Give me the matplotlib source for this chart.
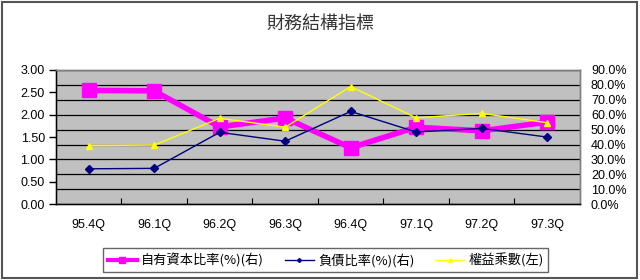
import matplotlib
matplotlib.use("Agg")
import matplotlib.pyplot as plt
from matplotlib.patches import Rectangle
from matplotlib.ticker import FuncFormatter, MultipleLocator

plt.rcParams['font.family'] = ['Noto Sans CJK TC', 'DejaVu Sans']

# data
quarters = ["95.4Q", "96.1Q", "96.2Q", "96.3Q", "96.4Q", "97.1Q", "97.2Q", "97.3Q"]
equity_ratio = [76.3, 76.0, 51.8, 57.8, 37.8, 51.6, 49.2, 55.0]   # 自有資本比率(%) right axis
debt_ratio = [23.7, 24.0, 48.2, 42.2, 62.2, 48.4, 50.8, 45.0]     # 負債比率(%) right axis
multiplier = [1.31, 1.32, 1.92, 1.72, 2.63, 1.93, 2.03, 1.82]     # 權益乘數 left axis

title = "財務結構指標"
labels = ["自有資本比率(%)(右)", "負債比率(%)(右)", "權益乘數(左)"]

num_font = "Liberation Sans"

fig = plt.figure(figsize=(6.4, 2.8), dpi=100)
fig.patch.set_facecolor("white")
ax = fig.add_axes([0.0875, 0.271, 0.8185, 0.479])
ax2 = ax.twinx()

x = list(range(len(quarters)))

# right axis: background, grid, pink and navy lines
ax2.set_facecolor("#C0C0C0")
ax2.patch.set_visible(True)
p1, = ax2.plot(x, equity_ratio, color="#FF00FF", lw=4, marker="s", ms=10,
               mec="#FF00FF", mfc="#FF00FF", zorder=3)
p2, = ax2.plot(x, debt_ratio, color="#000080", lw=1, marker="D", ms=4,
               mec="#000080", mfc="#000080", zorder=4)
ax2.set_ylim(0, 90)
ax2.yaxis.set_major_locator(MultipleLocator(10))
ax2.yaxis.set_major_formatter(FuncFormatter(lambda v, p: f"{v:.1f}%"))
ax2.grid(axis="y", color="black", lw=0.9)
ax2.set_axisbelow(True)
ax2.tick_params(axis="y", length=0, pad=8, labelsize=9)

# left axis on top, transparent, yellow line
ax.set_zorder(ax2.get_zorder() + 1)
ax.patch.set_visible(False)
p3, = ax.plot(x, multiplier, color="#FFFF00", lw=1, marker="^", ms=5,
              mec="#FFFF00", mfc="#FFFF00", zorder=5)
ax.set_ylim(0, 3)
ax.yaxis.set_major_locator(MultipleLocator(0.5))
ax.yaxis.set_major_formatter(FuncFormatter(lambda v, p: f"{v:.2f}"))
ax.tick_params(axis="y", direction="out", length=5, width=1, color="black",
               labelsize=9, pad=3)
ax.set_xlim(-0.5, len(quarters) - 0.5)
ax.set_xticks([i + 0.5 for i in x[:-1]])
ax.set_xticklabels([])
ax.set_xticks(x, minor=True)
ax.set_xticklabels(quarters, minor=True)
ax.tick_params(axis="x", which="major", direction="in", length=4, color="black")
ax.tick_params(axis="x", which="minor", length=0, pad=11, labelsize=9)

for a in (ax, ax2):
    for s in a.spines.values():
        s.set_color("#808080")
        s.set_linewidth(1)
ax.spines["bottom"].set_color("black")
ax.spines["left"].set_color("black")

for lab in ax.get_yticklabels() + ax.get_xticklabels(which="minor") + ax2.get_yticklabels():
    lab.set_fontfamily(num_font)

fig.text(0.5, 0.915, title, ha="center", va="center", fontsize=13, color="#333333")

leg = fig.legend([p1, p2, p3], labels, loc="center", bbox_to_anchor=(0.509, 0.071),
                 ncol=3, fontsize=9.5, frameon=True, fancybox=False, edgecolor="#404040",
                 handlelength=2.2, handletextpad=0.3, columnspacing=1.6,
                 borderpad=0.35, borderaxespad=0, markerscale=0.5)
leg.get_frame().set_linewidth(1)
for h in leg.legend_handles:
    h.set_linewidth(min(h.get_linewidth(), 3))

fig.patches.append(Rectangle((0.003, 0.008), 0.993, 0.984, transform=fig.transFigure,
                             fill=False, edgecolor="#555555", lw=1.5))

fig.savefig("out.png", dpi=100)
